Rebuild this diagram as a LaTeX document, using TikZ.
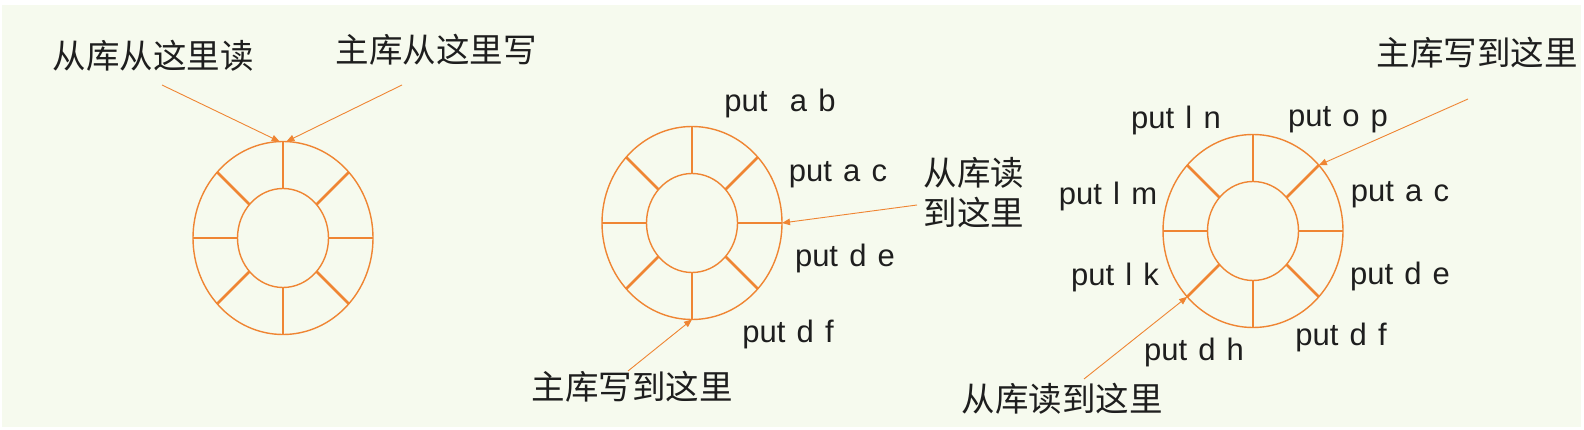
\documentclass[tikz,border=0pt]{standalone}
\usepackage{fontspec}
\setmainfont{Liberation Sans}[WordSpace=1.3]
\newfontfamily\cjk{Noto Sans CJK SC}
\usetikzlibrary{shapes.geometric,arrows.meta}

\definecolor{ringorange}{HTML}{EF8533}
\definecolor{paper}{HTML}{F6FAEE}
\definecolor{ink}{HTML}{1E1E1E}

\tikzset{
	ring/.style={shape=ellipse,draw=ringorange,line width=1.4pt,minimum width=180pt,minimum height=193pt,inner sep=0pt,outer sep=0pt},
	hub/.style={shape=ellipse,draw=ringorange,line width=1.4pt,minimum width=91pt,minimum height=99pt,inner sep=0pt,outer sep=0pt},
	spoke/.style={draw=ringorange,line width=2.6pt},
	pointer/.style={draw=ringorange,line width=0.9pt,-{Triangle[length=8pt,width=6.5pt]}},
	cmd/.style={text=ink,inner sep=0pt,font=\fontsize{31}{36}\selectfont},
	note/.style={text=ink,inner sep=0pt,align=center,font=\fontsize{33.5}{40}\selectfont\cjk},
}

\begin{document}
\begin{tikzpicture}[x=1pt,y=-1pt]
	
	\useasboundingbox (0,0) rectangle (1584,430);
	\fill[white] (0,0) rectangle (1584,430);
	\fill[paper] (2,5) rectangle (1581,427);
	
	% first ring: both at the top
	\node[ring] (w1out) at (283,238) {};
	\node[hub]  (w1in)  at (283,238) {};
	\foreach \a in {0,45,...,315}
		\draw[spoke] (w1in.\a) -- (w1out.\a);
	\node[note] (r1) at (153,56) {从库从这里读};
	\node[note] (m1) at (436,50) {主库从这里写};
	\coordinate (r1tail) at (162,85);
	\coordinate (m1tail) at (402,85);
	\draw[pointer] (r1tail) -- (w1out.92);
	\draw[pointer] (m1tail) -- (w1out.88);
	
	% second ring
	\node[ring] (w2out) at (692,223) {};
	\node[hub]  (w2in)  at (692,223) {};
	\foreach \a in {0,45,...,315}
		\draw[spoke] (w2in.\a) -- (w2out.\a);
	\node[cmd] (ab2) at (780,103) {put~~a b};
	\node[cmd] (ac2) at (838,175) {put a c};
	\node[cmd] (de2) at (845,258) {put d e};
	\node[cmd] (df2) at (788,334) {put d f};
	\node[note] (r2) at (974,193) {从库读\\到这里};
	\node[note] (m2) at (632,387) {主库写到这里};
	\coordinate (r2tail) at (917,205);
	\coordinate (m2tail) at (628,371);
	\draw[pointer] (r2tail) -- (w2out.0);
	\draw[pointer] (m2tail) -- (w2out.270);
	
	% third ring, wrapped around
	\node[cmd] (ln3) at (1176,120) {put l n};
	\node[cmd] (op3) at (1338,120) {put o p};
	\node[cmd] (lm3) at (1108,196) {put l m};
	\node[cmd] (ac3) at (1400,195) {put a c};
	\node[cmd] (lk3) at (1115,277) {put l k};
	\node[cmd] (de3) at (1400,276) {put d e};
	\node[cmd] (dh3) at (1194,352) {put d h};
	\node[cmd] (df3) at (1341,337) {put d f};
	\node[ring] (w3out) at (1253,231) {};
	\node[hub]  (w3in)  at (1253,231) {};
	\foreach \a in {0,45,...,315}
		\draw[spoke] (w3in.\a) -- (w3out.\a);
	\node[note] (m3) at (1477,53) {主库写到这里};
	\node[note] (r3) at (1062,399) {从库读到这里};
	\coordinate (m3tail) at (1468,99);
	\coordinate (r3tail) at (1084,379);
	\draw[pointer] (m3tail) -- (w3out.45);
	\draw[pointer] (r3tail) -- (w3out.225);
	
\end{tikzpicture}
\end{document}
